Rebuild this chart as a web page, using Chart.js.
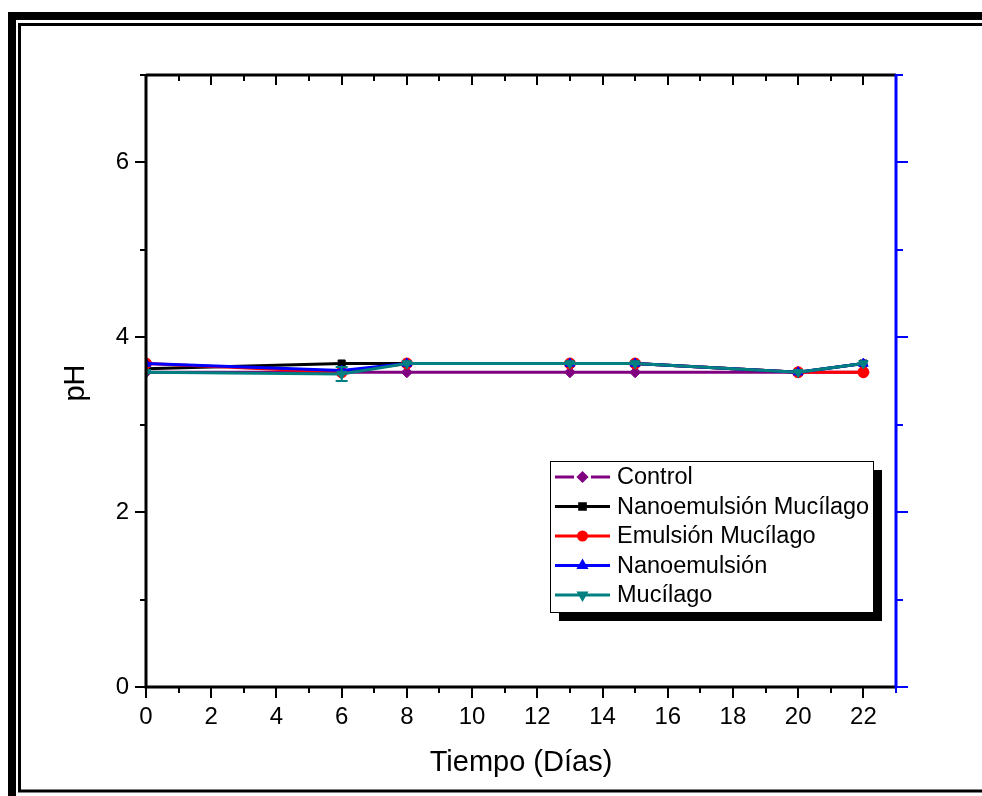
<!DOCTYPE html>
<html>
<head>
<meta charset="utf-8">
<script src="https://cdn.jsdelivr.net/npm/chart.js@4/dist/chart.umd.min.js"></script>
<style>
  html, body { margin: 0; padding: 0; background: #fff; }
  canvas { display: block; }
</style>
</head>
<body>
<canvas id="phChart" width="982" height="796"></canvas>
<script>
// data
const days = [0, 6, 8, 13, 15, 20, 22];
const control = [3.6, 3.6, 3.6, 3.6, 3.6, 3.6, 3.6];
const nanoMucilago = [3.64, 3.7, 3.7, 3.7, 3.7, 3.6, 3.7];
const emulsionMucilago = [3.7, 3.6, 3.7, 3.7, 3.7, 3.6, 3.6];
const nanoemulsion = [3.7, 3.62, 3.7, 3.7, 3.7, 3.6, 3.7];
const mucilago = [3.6, 3.58, 3.7, 3.7, 3.7, 3.6, 3.7];
const mucilagoErr = [0, 0.08, 0, 0, 0, 0, 0];
const xTicks = [0, 2, 4, 6, 8, 10, 12, 14, 16, 18, 20, 22];
const yTicks = [0, 2, 4, 6];

const FONT = 'Arial, "Liberation Sans", sans-serif';

function pts(vals) {
    return days.map((d, i) => ({ x: d, y: vals[i] }));
}

function series(label, vals, color, style, rotation, order) {
    return {
        label: label,
        data: pts(vals),
        borderColor: color,
        backgroundColor: color,
        borderWidth: 3,
        pointStyle: style,
        pointRotation: rotation,
        pointRadius: style === 'rect' ? 5 : 5.5,
        pointBorderWidth: 1,
        tension: 0,
        order: order
    };
}

// frame, axes, ticks, titles, error bars and legend box
const decorPlugin = {
    id: 'decor',
    beforeDraw(chart) {
        const ctx = chart.ctx;
        ctx.save();
        ctx.fillStyle = '#fff';
        ctx.fillRect(0, 0, chart.width, chart.height);
        // outer thick frame (runs off the right/bottom edge)
        ctx.strokeStyle = '#000';
        ctx.lineWidth = 8;
        ctx.strokeRect(12, 16, 1100, 1000);
        ctx.lineWidth = 3;
        ctx.strokeRect(19.5, 24.5, 1100, 766.5);
        ctx.restore();
    },
    afterDatasetsDraw(chart) {
        const ctx = chart.ctx;
        const xs = chart.scales.x, ys = chart.scales.y;
        const a = chart.chartArea;
        ctx.save();

        // error bars for Mucílago
        ctx.strokeStyle = '#008080';
        ctx.lineWidth = 2;
        mucilagoErr.forEach((e, i) => {
            if (!e) return;
            const px = xs.getPixelForValue(days[i]);
            const lo = ys.getPixelForValue(mucilago[i] - e);
            const hi = ys.getPixelForValue(mucilago[i] + e);
            ctx.beginPath();
            ctx.moveTo(px, lo); ctx.lineTo(px, hi);
            ctx.moveTo(px - 6, lo); ctx.lineTo(px + 6, lo);
            ctx.moveTo(px - 6, hi); ctx.lineTo(px + 6, hi);
            ctx.stroke();
        });

        // axes
        ctx.lineCap = 'butt';
        ctx.strokeStyle = '#000';
        ctx.lineWidth = 3;
        ctx.beginPath();
        ctx.moveTo(a.left, a.top); ctx.lineTo(a.left, a.bottom);
        ctx.lineTo(a.right, a.bottom);
        ctx.moveTo(a.left, a.top); ctx.lineTo(a.right, a.top);
        ctx.stroke();
        ctx.strokeStyle = '#0000ff';
        ctx.beginPath();
        ctx.moveTo(a.right, a.top - 1); ctx.lineTo(a.right, a.bottom + 1);
        ctx.stroke();

        ctx.lineWidth = 2;
        // x ticks
        for (let v = xs.min; v <= xs.max; v++) {
            const px = Math.round(xs.getPixelForValue(v));
            const major = v % 2 === 0;
            ctx.strokeStyle = v === xs.max ? '#0000ff' : '#000';
            ctx.beginPath();
            ctx.moveTo(px, a.bottom); ctx.lineTo(px, a.bottom + (major ? 11 : 6));
            ctx.moveTo(px, a.top); ctx.lineTo(px, a.top + (major ? 10 : 6));
            ctx.stroke();
        }
        // y ticks
        for (let v = ys.min; v <= ys.max; v++) {
            const py = Math.round(ys.getPixelForValue(v));
            const major = v % 2 === 0;
            ctx.strokeStyle = '#000';
            ctx.beginPath();
            ctx.moveTo(a.left, py); ctx.lineTo(a.left - (major ? 11 : 6), py);
            ctx.stroke();
            ctx.strokeStyle = '#0000ff';
            ctx.beginPath();
            ctx.moveTo(a.right, py); ctx.lineTo(a.right + (major ? 12 : 7), py);
            ctx.stroke();
        }

        // tick labels
        ctx.fillStyle = '#000';
        ctx.font = '24px ' + FONT;
        ctx.textAlign = 'center';
        ctx.textBaseline = 'middle';
        xTicks.forEach(v => {
            ctx.fillText(String(v), xs.getPixelForValue(v), a.bottom + 30);
        });
        ctx.textAlign = 'right';
        yTicks.forEach(v => {
            ctx.fillText(String(v), a.left - 17, ys.getPixelForValue(v));
        });

        // axis titles
        ctx.font = '29px ' + FONT;
        ctx.textAlign = 'center';
        ctx.fillText('Tiempo (Días)', 521, 763);
        ctx.save();
        ctx.translate(76, 383);
        ctx.rotate(-Math.PI / 2);
        ctx.fillText('pH', 0, 0);
        ctx.restore();

        // legend box with shadow
        const lx = 550, ly = 461, lw = 323, lh = 151;
        ctx.fillStyle = '#000';
        ctx.fillRect(lx + 9, ly + 9, lw, lh);
        ctx.fillStyle = '#fff';
        ctx.fillRect(lx, ly, lw, lh);
        ctx.strokeStyle = '#000';
        ctx.lineWidth = 1;
        ctx.strokeRect(lx + 0.5, ly + 0.5, lw, lh);
        ctx.font = '23.5px ' + FONT;
        ctx.textAlign = 'left';
        chart.data.datasets.forEach((ds, i) => {
            const cy = ly + 16 + i * 29.5;
            ctx.strokeStyle = ds.borderColor;
            ctx.lineWidth = 3;
            ctx.beginPath();
            if (i === 0) {
                ctx.moveTo(555, cy); ctx.lineTo(574, cy);
                ctx.moveTo(591, cy); ctx.lineTo(610, cy);
            } else {
                ctx.moveTo(555, cy); ctx.lineTo(610, cy);
            }
            ctx.stroke();
            Chart.helpers.drawPoint(ctx, {
                pointStyle: ds.pointStyle,
                rotation: ds.pointRotation,
                radius: 4,
                borderWidth: 1
            }, 582.5, cy);
            ctx.fillStyle = ds.borderColor;
            ctx.fill();
            ctx.fillStyle = '#000';
            ctx.fillText(ds.label, 617, cy + 1);
        });

        ctx.restore();
    }
};

const ctx = document.getElementById('phChart').getContext('2d');
const chart = new Chart(ctx, {
    type: 'line',
    data: {
        datasets: [
            series('Control', control, '#800080', 'rectRot', 0, 4),
            series('Nanoemulsión Mucílago', nanoMucilago, '#000000', 'rect', 0, 3),
            series('Emulsión Mucílago', emulsionMucilago, '#ff0000', 'circle', 0, 2),
            series('Nanoemulsión', nanoemulsion, '#0000ff', 'triangle', 0, 1),
            series('Mucílago', mucilago, '#008080', 'triangle', 180, 0)
        ]
    },
    options: {
        responsive: false,
        animation: false,
        layout: { padding: { left: 146, top: 75, right: 86, bottom: 109 } },
        plugins: { legend: { display: false }, tooltip: { enabled: false } },
        scales: {
            x: { type: 'linear', min: 0, max: 23, display: false },
            y: { min: 0, max: 7, display: false }
        }
    },
    plugins: [decorPlugin]
});
</script>
</body>
</html>
